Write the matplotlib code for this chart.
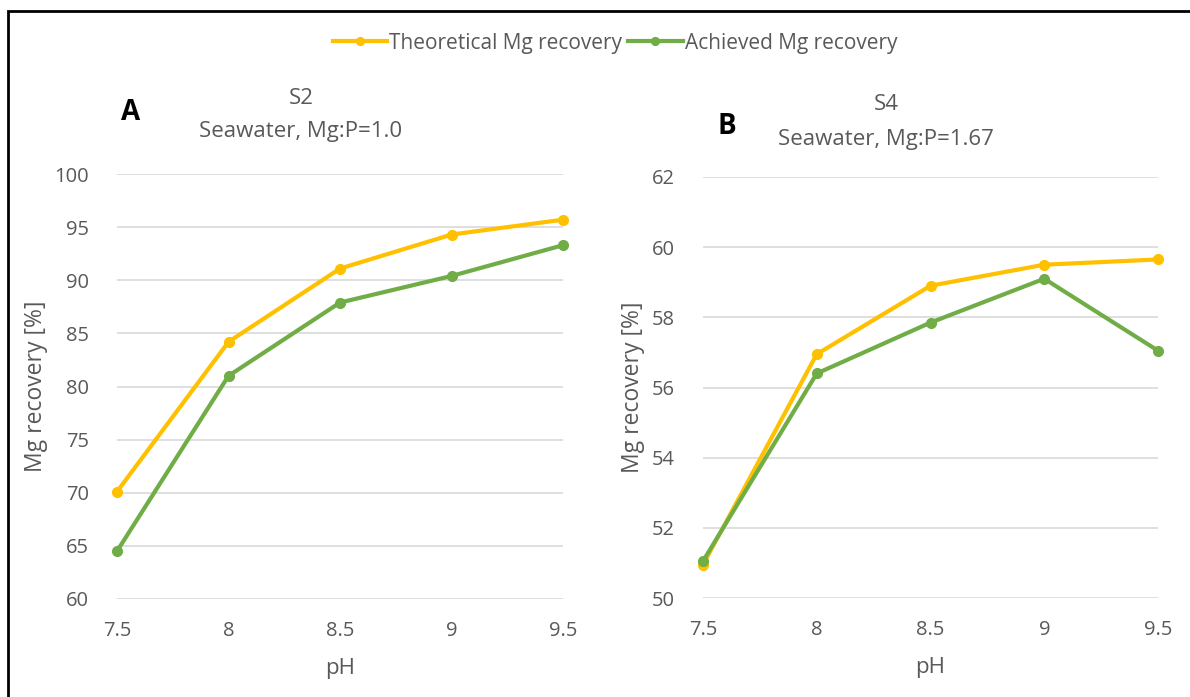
import matplotlib
matplotlib.use("Agg")
import matplotlib.pyplot as plt
from matplotlib.patches import Rectangle

# data
ph = [7.5, 8, 8.5, 9, 9.5]
ph_labels = ["7.5", "8", "8.5", "9", "9.5"]

s2_theoretical = [70.1, 84.2, 91.1, 94.3, 95.7]
s2_achieved = [64.5, 81.0, 87.9, 90.4, 93.3]

s4_theoretical = [50.95, 56.95, 58.9, 59.5, 59.65]
s4_achieved = [51.05, 56.4, 57.85, 59.1, 57.05]

ORANGE = "#FFC000"
GREEN = "#70AD47"
GREY = "#595959"
GRID = "#D9D9D9"

plt.rcParams['font.family'] = ['Open Sans', 'DejaVu Sans']

fig = plt.figure(figsize=(11.9, 6.97), dpi=100)

# frame around the figure (left and top visible, rest cut off)
fig.patches.append(Rectangle((8 / 1190, -0.1), 1.2, 1.1 - 11 / 697,
                             transform=fig.transFigure, fill=False,
                             edgecolor="black", linewidth=2))

ax1 = fig.add_axes([117 / 1190, 1 - 599 / 697, (563 - 117) / 1190, (599 - 174) / 697])
ax2 = fig.add_axes([703 / 1190, 1 - 598 / 697, (1158 - 703) / 1190, (598 - 177) / 697])


def style(ax, ylim, yticks):
    ax.set_xlim(7.5, 9.5)
    ax.set_ylim(*ylim)
    ax.set_yticks(yticks)
    ax.set_xticks(ph)
    ax.set_xticklabels(ph_labels)
    ax.grid(axis="y", color=GRID, linewidth=1.2)
    ax.set_axisbelow(True)
    for s in ax.spines.values():
        s.set_visible(False)
    ax.tick_params(length=0, labelsize=14.5, colors=GREY)
    ax.tick_params(axis="y", pad=20)
    ax.tick_params(axis="x", pad=16)
    ax.set_xlabel("pH", fontsize=16, color=GREY, labelpad=12)
    ax.set_ylabel("Mg recovery [%]", fontsize=16.5, color=GREY, labelpad=5)


line_kw = dict(linewidth=3, marker="o", markersize=7, clip_on=False)

l1, = ax1.plot(ph, s2_theoretical, color=ORANGE, label="Theoretical Mg recovery", **line_kw)
l2, = ax1.plot(ph, s2_achieved, color=GREEN, label="Achieved Mg recovery", **line_kw)
style(ax1, (60, 100), range(60, 101, 5))

ax2.plot(ph, s4_theoretical, color=ORANGE, **line_kw)
ax2.plot(ph, s4_achieved, color=GREEN, **line_kw)
style(ax2, (50, 62), range(50, 63, 2))

# panel titles
fig.text(301 / 1190, 1 - 99 / 697, "S2", ha="center", va="center", fontsize=16, color=GREY)
fig.text(301 / 1190, 1 - 131 / 697, "Seawater, Mg:P=1.0", ha="center", va="center", fontsize=16, color=GREY)
fig.text(131 / 1190, 1 - 112 / 697, "A", ha="center", va="center", fontsize=20, fontweight="bold", color="black")

fig.text(886 / 1190, 1 - 104 / 697, "S4", ha="center", va="center", fontsize=16, color=GREY)
fig.text(886 / 1190, 1 - 139 / 697, "Seawater, Mg:P=1.67", ha="center", va="center", fontsize=16, color=GREY)
fig.text(727 / 1190, 1 - 127 / 697, "B", ha="center", va="center", fontsize=20, fontweight="bold", color="black")

leg = fig.legend(handles=[l1, l2], loc="center", bbox_to_anchor=(615 / 1190, 1 - 43 / 697),
                 ncol=2, frameon=False, fontsize=15, handlelength=2.6,
                 handletextpad=0.1, columnspacing=0.3, markerscale=0.8)
for t in leg.get_texts():
    t.set_color(GREY)

fig.savefig("out.png", dpi=100)
